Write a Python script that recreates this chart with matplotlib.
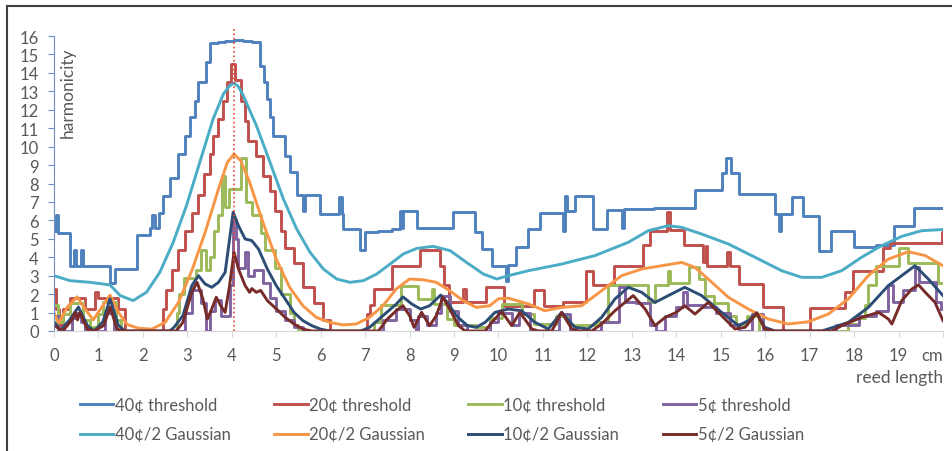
import matplotlib.pyplot as plt
from matplotlib.lines import Line2D
import numpy as np

plt.rcParams['font.family'] = ['Lato', 'DejaVu Sans']

# step series (x where the level starts, level)
t40 = [(0.0, 5.4), (0.04, 6.3), (0.08, 5.3), (0.36, 3.5), (0.44, 4.4), (0.5, 3.5), (0.6, 4.4), (0.66, 3.5),
       (1.26, 2.6), (1.38, 3.35), (1.86, 5.2), (2.16, 5.6), (2.2, 6.3), (2.27, 5.6), (2.36, 6.4), (2.46, 7.3),
       (2.62, 8.3), (2.8, 9.6), (2.95, 10.6), (3.06, 11.6), (3.17, 12.5), (3.25, 13.5), (3.42, 14.6),
       (3.52, 15.6), (3.7, 15.7), (3.85, 15.75), (4.05, 15.8), (4.25, 15.75), (4.45, 15.7), (4.63, 14.4),
       (4.72, 13.5), (4.8, 12.6), (4.86, 11.6), (4.92, 10.6), (5.2, 9.5), (5.3, 8.6), (5.46, 7.4), (5.6, 6.5),
       (5.64, 7.4), (5.98, 6.35), (6.42, 7.25), (6.47, 6.35), (6.51, 5.55), (6.88, 4.4), (6.99, 5.35),
       (7.3, 5.45), (7.6, 5.55), (7.78, 6.5), (7.83, 5.6), (7.86, 6.5), (8.16, 5.6), (8.98, 6.45), (9.47, 5.35),
       (9.62, 4.45), (9.85, 3.55), (10.17, 2.7), (10.22, 3.6), (10.4, 4.55), (10.67, 5.55), (10.93, 6.4),
       (11.45, 5.4), (11.5, 7.3), (11.55, 6.5), (11.72, 7.3), (12.13, 5.55), (12.43, 6.55), (12.77, 5.6),
       (12.83, 6.6), (13.5, 6.65), (14.42, 7.65), (15.02, 8.55), (15.12, 9.4), (15.22, 8.55), (15.4, 7.45),
       (16.22, 6.35), (16.3, 5.4), (16.36, 6.35), (16.6, 7.25), (16.86, 6.25), (17.2, 4.35), (17.47, 5.45),
       (17.99, 4.55), (18.5, 4.65), (18.89, 5.7), (19.34, 6.65), (20.0, 6.65)]

t20 = [(0.0, 2.3), (0.04, 1.2), (0.12, 0.3), (0.2, 1.2), (0.35, 1.8), (0.7, 1.2), (0.93, 2.1), (0.98, 1.8),
       (1.45, 1.2), (1.6, 0.0), (2.46, 1.2), (2.53, 2.2), (2.65, 3.3), (2.8, 4.4), (2.95, 5.4), (3.1, 6.4),
       (3.25, 7.4), (3.38, 8.5), (3.5, 9.6), (3.58, 10.6), (3.68, 11.5), (3.8, 12.5), (3.9, 13.5), (3.98, 14.5),
       (4.08, 13.6), (4.2, 12.5), (4.3, 11.4), (4.37, 10.3), (4.55, 9.5), (4.7, 8.4), (4.85, 7.6), (4.98, 6.5),
       (5.1, 5.4), (5.2, 4.5), (5.4, 3.7), (5.6, 2.4), (5.85, 1.5), (6.05, 0.6), (6.2, 0.0), (7.04, 0.9),
       (7.1, 1.4), (7.2, 2.3), (7.6, 3.55), (8.23, 4.4), (8.68, 3.55), (8.78, 2.5), (8.88, 1.55), (9.2, 2.3),
       (9.26, 1.55), (9.73, 2.4), (10.13, 1.37), (10.8, 2.2), (11.02, 1.37), (11.45, 1.55), (11.97, 3.27),
       (12.12, 2.5), (12.6, 3.55), (13.24, 4.65), (13.4, 5.45), (13.8, 6.45), (13.86, 5.5), (14.18, 4.65),
       (14.6, 3.75), (14.66, 4.6), (14.7, 3.55), (15.15, 4.3), (15.2, 3.55), (15.42, 2.55), (15.95, 1.3),
       (16.4, 0.0), (17.0, 1.25), (17.79, 2.1), (17.98, 3.27), (18.66, 4.5), (18.8, 4.75), (19.97, 5.35),
       (20.0, 5.35)]

t10 = [(0.0, 1.4), (0.08, 0.5), (0.2, 0.9), (0.35, 1.5), (0.65, 0.6), (0.8, 0.2), (1.0, 0.9), (1.1, 1.6),
       (1.4, 0.6), (1.5, 0.0), (2.76, 1.0), (2.82, 2.0), (2.92, 2.9), (3.2, 3.3), (3.3, 4.4), (3.42, 3.3),
       (3.5, 4.0), (3.6, 5.4), (3.7, 6.3), (3.78, 8.4), (3.85, 6.7), (3.93, 7.7), (4.2, 9.4), (4.33, 7.0),
       (4.45, 6.3), (4.65, 5.3), (4.75, 4.4), (4.98, 3.4), (5.1, 2.0), (5.3, 1.0), (5.4, 0.3), (5.5, 0.0),
       (7.2, 0.5), (7.35, 1.4), (7.8, 2.45), (8.2, 1.75), (8.5, 2.3), (8.56, 1.45), (8.84, 0.65), (9.0, 0.3),
       (9.5, 0.2), (9.8, 0.7), (10.07, 1.46), (10.52, 0.9), (10.8, 0.4), (11.3, 0.8), (11.6, 0.3), (12.2, 0.5),
       (12.47, 2.5), (13.37, 1.55), (13.52, 2.5), (13.82, 3.27), (13.86, 2.6), (14.28, 3.45), (14.5, 2.8),
       (14.65, 1.9), (14.85, 1.5), (15.17, 0.8), (15.35, 0.4), (15.6, 0.8), (15.85, 0.0), (17.87, 0.4),
       (18.1, 0.7), (18.25, 1.4), (18.32, 2.5), (18.5, 3.55), (19.0, 4.5), (19.22, 3.7), (19.89, 2.6),
       (20.0, 2.6)]

t5 = [(0.0, 0.8), (0.1, 0.0), (0.4, 0.7), (0.5, 1.0), (0.6, 0.5), (0.7, 0.0), (1.15, 1.0), (1.35, 0.0),
      (2.95, 1.0), (3.1, 2.2), (3.3, 1.5), (3.42, 0.0), (3.52, 1.1), (3.62, 1.7), (3.75, 0.8), (3.95, 2.5),
      (4.02, 6.0), (4.1, 5.0), (4.15, 3.4), (4.3, 4.3), (4.36, 3.0), (4.5, 3.3), (4.7, 2.6), (4.85, 1.8),
      (5.0, 1.1), (5.2, 0.6), (5.4, 0.2), (5.6, 0.0), (7.4, 0.6), (7.7, 1.2), (8.0, 0.6), (8.15, 0.0),
      (8.2, 0.8), (8.4, 0.3), (8.6, 1.0), (8.7, 1.9), (8.9, 1.1), (9.1, 0.3), (9.3, 0.0), (9.8, 0.5),
      (10.0, 1.0), (10.3, 0.3), (10.45, 1.0), (10.7, 0.0), (11.35, 0.9), (11.6, 0.0), (12.3, 0.5),
      (12.7, 2.4), (12.85, 1.6), (13.1, 1.5), (13.4, 0.3), (13.55, 0.0), (13.75, 0.8), (14.0, 1.3),
      (14.15, 2.1), (14.25, 1.4), (14.6, 1.3), (14.9, 1.0), (15.2, 0.3), (15.4, 0.0), (15.7, 0.9),
      (15.95, 0.0), (17.6, 0.3), (18.1, 0.8), (18.5, 1.1), (18.77, 2.5), (18.87, 1.6), (19.1, 2.2),
      (19.37, 3.45), (19.45, 2.65), (19.85, 1.55), (19.95, 1.2)]

# smoothed series (x, value)
g40 = [(0.0, 3.0), (0.36, 2.73), (0.81, 2.64), (1.26, 2.5), (1.49, 1.92), (1.78, 1.65), (2.08, 2.1),
       (2.38, 3.18), (2.68, 4.8), (2.98, 6.8), (3.28, 9.15), (3.58, 11.5), (3.81, 12.85), (3.95, 13.3),
       (4.05, 13.45), (4.15, 13.25), (4.26, 12.76), (4.56, 11.1), (4.86, 9.15), (5.16, 7.16), (5.46, 5.53),
       (5.76, 4.27), (6.06, 3.36), (6.36, 2.82), (6.66, 2.64), (6.96, 2.73), (7.26, 3.09), (7.56, 3.63),
       (7.86, 4.18), (8.16, 4.48), (8.53, 4.59), (8.91, 4.36), (9.28, 3.72), (9.66, 3.09), (9.96, 2.82),
       (10.22, 3.0), (10.67, 3.27), (11.42, 3.63), (12.17, 4.09), (12.92, 4.81), (13.37, 5.44), (13.82, 5.71),
       (14.12, 5.62), (14.57, 5.26), (15.17, 4.72), (15.77, 4.0), (16.37, 3.27), (16.82, 2.91), (17.27, 2.91),
       (17.72, 3.27), (18.17, 4.0), (18.62, 4.63), (19.07, 5.13), (19.52, 5.44), (19.97, 5.5)]

g20 = [(0.0, 1.0), (0.1, 0.4), (0.3, 1.3), (0.52, 1.85), (0.7, 1.2), (0.88, 0.6), (1.05, 1.2), (1.26, 1.95),
       (1.45, 1.0), (1.65, 0.35), (1.9, 0.15), (2.2, 0.1), (2.5, 0.47), (2.8, 1.55), (3.1, 3.27), (3.4, 5.35),
       (3.7, 7.7), (3.9, 9.15), (4.05, 9.6), (4.2, 9.24), (4.4, 8.07), (4.7, 5.9), (5.0, 3.9), (5.3, 2.37),
       (5.6, 1.37), (5.9, 0.74), (6.2, 0.47), (6.5, 0.33), (6.8, 0.38), (7.1, 0.74), (7.4, 1.37), (7.7, 2.28),
       (8.0, 2.82), (8.3, 2.78), (8.6, 2.64), (8.9, 2.19), (9.2, 1.65), (9.5, 1.28), (9.8, 1.37), (10.0, 1.75),
       (10.22, 1.78), (10.67, 1.47), (11.04, 1.1), (11.42, 1.28), (11.87, 1.37), (12.32, 2.19), (12.77, 3.0),
       (13.22, 3.36), (13.67, 3.54), (14.12, 3.72), (14.42, 3.45), (14.8, 2.64), (15.17, 1.83), (15.62, 1.19),
       (16.07, 0.65), (16.52, 0.38), (16.97, 0.5), (17.42, 0.92), (17.87, 1.74), (18.32, 3.0), (18.77, 3.9),
       (19.22, 4.3), (19.6, 4.09), (20.0, 3.54)]

g10 = [(0.0, 0.5), (0.15, 0.05), (0.35, 0.6), (0.55, 1.3), (0.75, 0.3), (0.9, 0.0), (1.1, 0.5), (1.26, 1.75),
       (1.45, 0.3), (1.6, 0.0), (2.6, 0.0), (2.7, 0.2), (2.9, 0.83), (3.1, 2.46), (3.25, 3.0), (3.4, 2.55),
       (3.55, 2.37), (3.7, 2.64), (3.85, 3.18), (4.03, 6.44), (4.15, 5.71), (4.3, 4.99), (4.45, 4.9),
       (4.6, 4.45), (4.8, 3.36), (5.0, 2.46), (5.2, 1.74), (5.4, 1.01), (5.6, 0.56), (5.8, 0.29), (6.0, 0.1),
       (6.2, 0.0), (6.9, 0.0), (7.1, 0.2), (7.4, 0.83), (7.7, 1.46), (7.85, 1.85), (8.05, 1.46), (8.25, 1.19),
       (8.45, 1.37), (8.7, 1.95), (8.85, 1.55), (9.05, 0.83), (9.3, 0.29), (9.5, 0.2), (9.7, 0.47),
       (9.92, 1.01), (10.22, 1.19), (10.52, 1.1), (10.82, 0.47), (11.12, 0.11), (11.42, 1.01), (11.72, 0.2),
       (12.02, 0.11), (12.32, 0.74), (12.62, 1.74), (12.92, 2.37), (13.22, 2.1), (13.52, 1.55), (13.82, 1.92),
       (14.19, 2.37), (14.57, 1.92), (15.02, 1.01), (15.4, 0.29), (15.62, 0.56), (15.81, 0.98), (15.99, 0.2),
       (16.22, 0.0), (17.27, 0.0), (17.42, 0.11), (17.87, 0.47), (18.32, 1.28), (18.77, 2.46), (19.07, 3.0),
       (19.37, 3.54), (19.67, 2.82), (20.0, 1.92)]

g5 = [(0.0, 0.3), (0.2, 0.0), (0.4, 0.6), (0.48, 1.0), (0.53, 0.6), (0.58, 1.0), (0.75, 0.1), (0.9, 0.0),
      (1.12, 0.3), (1.26, 1.3), (1.42, 0.1), (1.55, 0.0), (2.75, 0.0), (2.9, 0.47), (3.1, 2.1), (3.22, 2.64),
      (3.35, 1.74), (3.45, 0.65), (3.55, 1.2), (3.65, 1.83), (3.75, 1.37), (3.85, 1.01), (3.95, 2.46),
      (4.05, 4.27), (4.15, 3.36), (4.3, 2.46), (4.4, 2.1), (4.45, 2.3), (4.55, 2.1), (4.65, 2.2), (4.8, 1.65),
      (5.0, 1.2), (5.2, 0.74), (5.4, 0.38), (5.6, 0.1), (5.8, 0.0), (7.3, 0.0), (7.5, 0.65), (7.7, 1.1),
      (7.85, 1.37), (8.0, 0.83), (8.1, 0.2), (8.27, 1.01), (8.45, 0.29), (8.6, 0.83), (8.75, 1.83), (8.9, 1.2),
      (9.1, 0.29), (9.25, 0.0), (9.7, 0.0), (9.85, 0.47), (10.07, 1.05), (10.3, 0.29), (10.48, 1.01),
      (10.75, 0.11), (10.9, 0.0), (11.2, 0.0), (11.42, 1.01), (11.65, 0.11), (11.8, 0.0), (12.1, 0.0),
      (12.32, 0.38), (12.62, 1.1), (13.03, 1.92), (13.3, 1.19), (13.52, 0.29), (13.75, 0.74), (14.0, 1.01),
      (14.19, 1.37), (14.42, 0.92), (14.72, 1.55), (15.02, 0.83), (15.32, 0.11), (15.55, 0.2), (15.81, 0.98),
      (15.99, 0.11), (16.2, 0.0), (17.5, 0.0), (17.72, 0.29), (18.17, 0.74), (18.55, 1.01), (18.77, 0.65),
      (18.85, 0.38), (19.07, 1.64), (19.3, 2.28), (19.45, 2.5), (19.6, 2.1), (19.82, 1.55), (20.0, 0.56)]

x_ticks = list(range(21))
x_labels = [str(i) for i in range(20)] + ['cm']
y_ticks = list(range(17))

step_series = [('40¢ threshold', t40, '#4F81BD'), ('20¢ threshold', t20, '#C0504D'),
               ('10¢ threshold', t10, '#9BBB59'), ('5¢ threshold', t5, '#8064A2')]
smooth_series = [('40¢/2 Gaussian', g40, '#4BACC6'), ('20¢/2 Gaussian', g20, '#F79646'),
                 ('10¢/2 Gaussian', g10, '#2C4D75'), ('5¢/2 Gaussian', g5, '#772C2A')]

txt = '#595959'
fig = plt.figure(figsize=(9.53, 4.52), dpi=100)
ax = fig.add_axes([54 / 953, 120 / 452, 889 / 953, 295 / 452])

lines = {}
for name, pts, col in step_series:
    xs, ys = np.array(pts).T
    lines[name], = ax.plot(xs, ys, drawstyle='steps-post', color=col, lw=2.1,
                           solid_joinstyle='round', label=name)
for name, pts, col in smooth_series:
    xs, ys = np.array(pts).T
    lines[name], = ax.plot(xs, ys, color=col, lw=2.1, solid_joinstyle='round', label=name)

# dotted marker at the main peak
ax.plot([4.05, 4.05], [0, 16.5], ls=':', color='#E8452C', lw=1.2, clip_on=False)

ax.set_xlim(0, 20)
ax.set_ylim(0, 16)
ax.spines['top'].set_visible(False)
ax.spines['right'].set_visible(False)
ax.spines['bottom'].set_color('#D9D9D9')
ax.spines['left'].set_color('#6F8FC8')
ax.set_xticks(x_ticks)
ax.set_xticklabels(x_labels)
ax.set_yticks(y_ticks)
ax.tick_params(axis='x', colors='#D9D9D9', labelcolor=txt, labelsize=12, length=4, pad=7.5)
ax.tick_params(axis='y', colors='#6F8FC8', labelcolor=txt, labelsize=12, length=4, pad=7)
ax.get_xticklabels()[-1].set_horizontalalignment('right')

ax.text(0.016, 0.81, 'harmonicity', transform=ax.transAxes, rotation=90, ha='center', va='center',
        color=txt, fontsize=12.5)
fig.text(943 / 953, 1 - 378 / 452, 'reed length', ha='right', va='center', color=txt, fontsize=12.5)

order = ['40¢ threshold', '40¢/2 Gaussian', '20¢ threshold', '20¢/2 Gaussian',
         '10¢ threshold', '10¢/2 Gaussian', '5¢ threshold', '5¢/2 Gaussian']
fig.legend([lines[k] for k in order], order, ncol=4, loc='upper left', bbox_to_anchor=(80 / 953, 1 - 398 / 452),
           frameon=False, fontsize=12, labelcolor=txt, handlelength=2.0, handletextpad=0.1,
           columnspacing=2.6, labelspacing=0.8, borderpad=0, borderaxespad=0)

# outer frame (top and left edges visible in the crop)
fig.add_artist(Line2D([7 / 953, 7 / 953], [0, 1 - 7 / 452], transform=fig.transFigure, color='#3F3F3F', lw=1.5))
fig.add_artist(Line2D([7 / 953, 1], [1 - 7 / 452, 1 - 7 / 452], transform=fig.transFigure, color='#3F3F3F', lw=1.5))

fig.savefig('out.png', dpi=100)
